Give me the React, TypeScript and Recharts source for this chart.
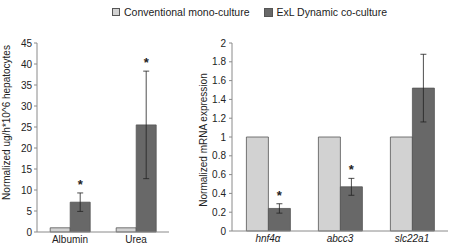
import { BarChart, Bar, XAxis, YAxis, ErrorBar, LabelList, Label } from 'recharts';

// left panel: secreted products
const metCategories = ['Albumin', 'Urea'];
const metConventional = [1, 1];
const metDynamic = [7.1, 25.5];
const metDynamicErr = [2.2, 12.8];
const metSignificant = [true, true];
const metTicks = [0, 5, 10, 15, 20, 25, 30, 35, 40, 45];

// right panel: gene expression
const geneCategories = ['hnf4α', 'abcc3', 'slc22a1'];
const geneConventional = [1, 1, 1];
const geneDynamic = [0.24, 0.47, 1.52];
const geneDynamicErr = [0.05, 0.09, 0.36];
const geneSignificant = [true, true, false];
const geneTicks = [0, 0.2, 0.4, 0.6, 0.8, 1, 1.2, 1.4, 1.6, 1.8, 2];

const seriesNames = ['Conventional mono-culture', 'ExL Dynamic co-culture'];

const LIGHT = '#d2d2d2';
const DARK = '#686868';
const EDGE = '#555';
const AXIS = '#8a8a8a';
const FONT = 'Liberation Sans, Arial, sans-serif';

const metData = metCategories.map((name, i) => ({
  name,
  conv: metConventional[i],
  dyn: metDynamic[i],
  err: metDynamicErr[i],
  sig: metSignificant[i],
}));

const geneData = geneCategories.map((name, i) => ({
  name,
  conv: geneConventional[i],
  dyn: geneDynamic[i],
  err: geneDynamicErr[i],
  sig: geneSignificant[i],
}));

const tickStyle = { fontSize: 10, fill: '#222', fontFamily: FONT };

// asterisk sits just above the top of the error bar
function starLabel(rows: { sig: boolean; dyn: number; err: number }[]) {
  return (props: any) => {
    const { x, y, width, height, index } = props;
    const row = rows[index];
    if (!row || !row.sig) return null;
    const pxPerUnit = height / row.dyn;
    const top = y - row.err * pxPerUnit;
    return (
      <text x={x + width / 2} y={top - 4} textAnchor="middle" fontSize={13} fontWeight="bold" fontFamily={FONT} fill="#222">
        *
      </text>
    );
  };
}

function axisTitle(text: string, dx: number, dy: number) {
  return (props: any) => {
    const vb = props.viewBox;
    const cx = vb.x + dx;
    const cy = vb.y + vb.height / 2 + dy;
    return (
      <text x={cx} y={cy} transform={`rotate(-90, ${cx}, ${cy})`} textAnchor="middle" dominantBaseline="central"
        fontSize={10} fontFamily={FONT} fill="#222">
        {text}
      </text>
    );
  };
}

function CategoryTick(props: any) {
  const { x, y, payload, italic } = props;
  return (
    <text x={x} y={y + 9} textAnchor="middle" fontSize={10} fontFamily={FONT} fill="#222"
      fontStyle={italic ? 'italic' : 'normal'}>
      {payload.value}
    </text>
  );
}

export default function App() {
  return (
    <div style={{ position: 'absolute', left: 0, top: 0, width: 450, height: 246, background: '#fff', fontFamily: FONT }}>
      <div style={{ position: 'absolute', top: 6, left: 112, display: 'flex', alignItems: 'center', fontSize: 10.5, color: '#222' }}>
        <span style={{ width: 6, height: 6, background: LIGHT, border: `1px solid ${EDGE}`, marginRight: 4 }} />
        <span style={{ marginRight: 14 }}>{seriesNames[0]}</span>
        <span style={{ width: 7, height: 7, background: DARK, border: `1px solid ${EDGE}`, marginRight: 4 }} />
        <span>{seriesNames[1]}</span>
      </div>

      <div style={{ position: 'absolute', left: 0, top: 0 }}>
        <BarChart width={180} height={246} data={metData} barGap={0} barCategoryGap="20%"
          margin={{ top: 43, right: 11, left: 0, bottom: 0 }}>
          <XAxis dataKey="name" axisLine={{ stroke: AXIS }} tickLine={false} tickSize={0} tickMargin={2} height={14}
            tick={<CategoryTick />} interval={0} />
          <YAxis domain={[0, 45]} ticks={metTicks} interval={0} width={37} tickSize={3} tickMargin={2}
            axisLine={{ stroke: AXIS }} tickLine={{ stroke: AXIS }} tick={tickStyle}>
            <Label content={axisTitle('Normalized ug/h*10^6 hepatocytes', 6, -15)} />
          </YAxis>
          <Bar dataKey="conv" fill={LIGHT} stroke={EDGE} strokeWidth={0.8} isAnimationActive={false} />
          <Bar dataKey="dyn" fill={DARK} stroke={EDGE} strokeWidth={0.8} isAnimationActive={false}>
            <ErrorBar dataKey="err" width={3} stroke="#222" strokeWidth={0.8} />
            <LabelList dataKey="dyn" content={starLabel(metData)} />
          </Bar>
        </BarChart>
      </div>

      <div style={{ position: 'absolute', left: 180, top: 0 }}>
        <BarChart width={270} height={246} data={geneData} barGap={0} barCategoryGap="20%"
          margin={{ top: 43, right: 2, left: 0, bottom: 0 }}>
          <XAxis dataKey="name" axisLine={{ stroke: AXIS }} tickLine={false} tickSize={0} tickMargin={2} height={15}
            tick={<CategoryTick italic />} interval={0} />
          <YAxis domain={[0, 2]} ticks={geneTicks} interval={0} width={52} tickSize={3} tickMargin={3}
            axisLine={{ stroke: AXIS }} tickLine={{ stroke: AXIS }} tick={tickStyle}>
            <Label content={axisTitle('Normalized mRNA expression', 23, 3)} />
          </YAxis>
          <Bar dataKey="conv" fill={LIGHT} stroke={EDGE} strokeWidth={0.8} isAnimationActive={false} />
          <Bar dataKey="dyn" fill={DARK} stroke={EDGE} strokeWidth={0.8} isAnimationActive={false}>
            <ErrorBar dataKey="err" width={3} stroke="#222" strokeWidth={0.8} />
            <LabelList dataKey="dyn" content={starLabel(geneData)} />
          </Bar>
        </BarChart>
      </div>
    </div>
  );
}
